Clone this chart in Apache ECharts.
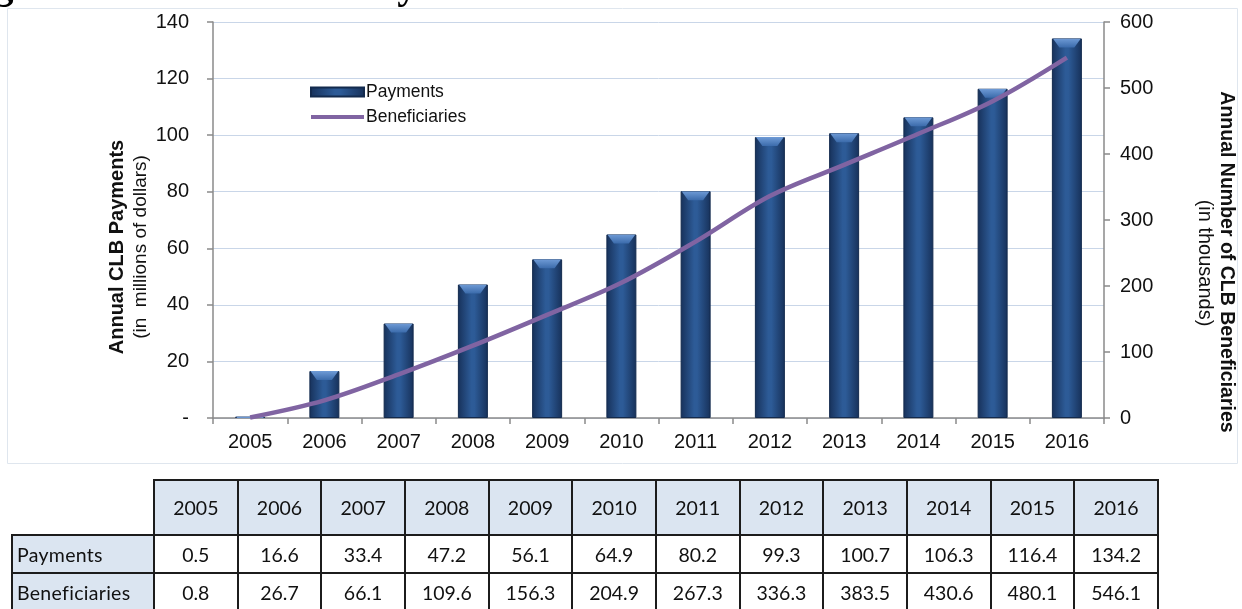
<!DOCTYPE html>
<html>
<head>
<meta charset="utf-8">
<script src="https://cdn.jsdelivr.net/npm/echarts@6/dist/echarts.min.js"></script>
<style>
  html, body { margin: 0; padding: 0; background: #fff; }
  #chart { position: absolute; left: 0; top: 0; width: 1242px; height: 609px; }
  #tbl {
    position: absolute; left: 11px; top: 479px;
    border-collapse: collapse; table-layout: fixed;
    font-family: Lato, "Liberation Sans", sans-serif; font-size: 19.5px; color: #111;
  }
  #tbl td, #tbl th { border: 2px solid #1c1c1c; padding: 0; font-weight: normal; text-align: center; overflow: hidden; white-space: nowrap; }
  #tbl thead th { height: 53px; background: #dbe5f1; }
  #tbl tbody td { height: 36px; background: #fff; }
  #tbl tbody th { background: #dbe5f1; text-align: left; padding-left: 4px; letter-spacing: 0.3px; }
  #tbl thead th.corner { background: #fff; border-top: none; border-left: none; }
</style>
</head>
<body>
<div id="chart"></div>
<table id="tbl"><colgroup id="cols"></colgroup><thead><tr id="head"></tr></thead><tbody id="body"></tbody></table>
<script>
// Annual CLB payments (millions of dollars) and beneficiaries (thousands)
const years = ['2005', '2006', '2007', '2008', '2009', '2010', '2011', '2012', '2013', '2014', '2015', '2016'];
const payments = [0.5, 16.6, 33.4, 47.2, 56.1, 64.9, 80.2, 99.3, 100.7, 106.3, 116.4, 134.2];
const beneficiaries = [0.8, 26.7, 66.1, 109.6, 156.3, 204.9, 267.3, 336.3, 383.5, 430.6, 480.1, 546.1];
const rowLabels = ['Payments', 'Beneficiaries'];

const FONT = '"Liberation Sans", Arial, sans-serif';

const chart = echarts.init(document.getElementById('chart'), null, { renderer: 'canvas' });

const barFill = new echarts.graphic.LinearGradient(0, 0, 1, 0, [
  { offset: 0, color: '#17315a' },
  { offset: 0.45, color: '#2d5b97' },
  { offset: 0.55, color: '#2d5b97' },
  { offset: 1, color: '#17315a' }
]);
const capFill = new echarts.graphic.LinearGradient(0, 0, 0, 1, [
  { offset: 0, color: '#6f9bd6' },
  { offset: 1, color: '#3b6bab' }
]);

chart.setOption({
  animation: false,
  backgroundColor: '#fff',
  grid: { left: 213, right: 138, top: 22, bottom: 191, containLabel: false },
  legend: {
    orient: 'vertical',
    left: 305, top: 78,
    itemWidth: 53, itemHeight: 10, itemGap: 7,
    textStyle: { fontFamily: FONT, fontSize: 17.5, color: '#111', padding: [0, 0, 0, -3] },
    data: [
      { name: 'Payments', icon: 'path://M0,0 H53 V9 H0 Z' },
      { name: 'Beneficiaries', icon: 'path://M0,3 H53 V7 H0 Z' }
    ]
  },
  xAxis: {
    type: 'category',
    data: years,
    boundaryGap: true,
    axisLine: { lineStyle: { color: '#8a8a8a', width: 1.5 } },
    axisTick: { show: true, length: 6, lineStyle: { color: '#8a8a8a', width: 1.5 } },
    axisLabel: { fontFamily: FONT, fontSize: 20, color: '#111', margin: 14 }
  },
  yAxis: [
    {
      type: 'value', min: 0, max: 140, interval: 20, position: 'left',
      axisLine: { show: true, lineStyle: { color: '#8a8a8a', width: 1.5 } },
      axisTick: { show: true, length: 6, lineStyle: { color: '#8a8a8a', width: 1.5 } },
      splitLine: { show: true, lineStyle: { color: '#c9d6e8', width: 1 } },
      axisLabel: {
        fontFamily: FONT, fontSize: 20, color: '#111', margin: 24,
        formatter: v => (v === 0 ? '-' : String(v))
      }
    },
    {
      type: 'value', min: 0, max: 600, interval: 100, position: 'right',
      axisLine: { show: true, lineStyle: { color: '#8a8a8a', width: 1.5 } },
      axisTick: { show: true, length: 6, lineStyle: { color: '#8a8a8a', width: 1.5 } },
      splitLine: { show: false },
      axisLabel: { fontFamily: FONT, fontSize: 20, color: '#111', margin: 16 }
    }
  ],
  series: [
    {
      name: 'Payments', type: 'bar', yAxisIndex: 0,
      data: payments, barWidth: 30,
      itemStyle: { color: barFill, borderColor: '#132a4d', borderWidth: 1 }
    },
    {
      // bevelled highlight on the top of each payments bar
      name: 'Payments', type: 'pictorialBar', yAxisIndex: 0,
      data: payments, barWidth: 30, z: 3, silent: true,
      symbol: 'path://M0,0 L30,0 L23,9 L7,9 Z',
      symbolSize: [28, 9], symbolPosition: 'end', symbolClip: true,
      symbolOffset: [0, 0],
      itemStyle: { color: capFill }
    },
    {
      name: 'Beneficiaries', type: 'line', yAxisIndex: 1,
      data: beneficiaries, smooth: 0.35, symbol: 'none', z: 4,
      itemStyle: { color: '#8064a2' },
      lineStyle: { color: '#8064a2', width: 4.5 }
    }
  ],
  graphic: [
    {
      type: 'rect', silent: true, z: -1,
      shape: { x: 7.5, y: 8.5, width: 1230, height: 455 },
      style: { fill: 'none', stroke: '#dfe6ee', lineWidth: 1 }
    },
    {
      type: 'text', silent: true,
      style: {
        x: -42, y: -12, text: 'Figure 6: Annual CLB Payments and Number of Beneficiaries',
        font: 'bold 40px "Liberation Serif", serif', fill: '#000',
        textVerticalAlign: 'middle'
      }
    },
    {
      type: 'text', silent: true, rotation: Math.PI / 2,
      x: 117, y: 247,
      style: {
        text: 'Annual CLB Payments', font: 'bold 20px ' + FONT, fill: '#111',
        textAlign: 'center', textVerticalAlign: 'middle'
      }
    },
    {
      type: 'text', silent: true, rotation: Math.PI / 2,
      x: 141, y: 247,
      style: {
        text: '(in  millions of dollars)', font: '19px ' + FONT, fill: '#111',
        textAlign: 'center', textVerticalAlign: 'middle'
      }
    },
    {
      type: 'text', silent: true, rotation: -Math.PI / 2,
      x: 1226, y: 262,
      style: {
        text: 'Annual Number of CLB Beneficiaries', font: 'bold 19.5px ' + FONT, fill: '#111',
        textAlign: 'center', textVerticalAlign: 'middle'
      }
    },
    {
      type: 'text', silent: true, rotation: -Math.PI / 2,
      x: 1205, y: 263,
      style: {
        text: '(in thousands)', font: '20px ' + FONT, fill: '#111',
        textAlign: 'center', textVerticalAlign: 'middle'
      }
    }
  ]
});

// Data table under the chart, filled from the same arrays
const cols = document.getElementById('cols');
const head = document.getElementById('head');
const body = document.getElementById('body');
const firstCol = document.createElement('col');
firstCol.style.width = '142px';
cols.appendChild(firstCol);
const corner = document.createElement('th');
corner.className = 'corner';
head.appendChild(corner);
years.forEach(y => {
  const c = document.createElement('col');
  c.style.width = '83.67px';
  cols.appendChild(c);
  const th = document.createElement('th');
  th.textContent = y;
  head.appendChild(th);
});
[payments, beneficiaries].forEach((vals, r) => {
  const tr = document.createElement('tr');
  const th = document.createElement('th');
  th.textContent = rowLabels[r];
  tr.appendChild(th);
  vals.forEach(v => {
    const td = document.createElement('td');
    td.textContent = v.toFixed(1);
    tr.appendChild(td);
  });
  body.appendChild(tr);
});
</script>
</body>
</html>
